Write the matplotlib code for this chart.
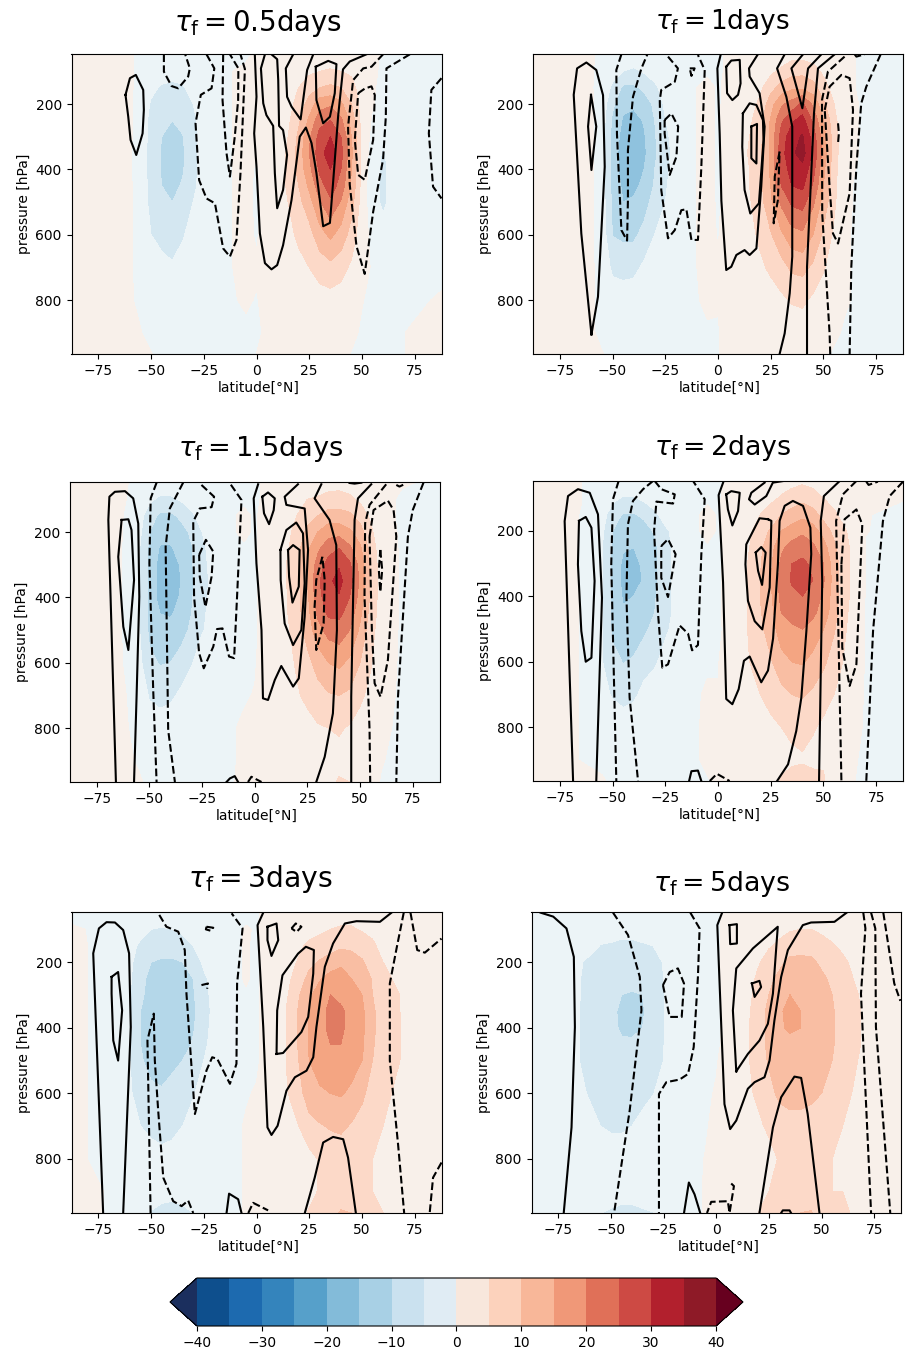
import numpy as np
import matplotlib
matplotlib.use("Agg")
import matplotlib.pyplot as plt
from matplotlib.colors import ListedColormap, BoundaryNorm
from matplotlib.cm import ScalarMappable

LAT = [-87.7,-65,-55,-50,-45,-40,-35,-30,-25,-15,-5,0,5,15,20,25,30,35,40,45,50,55,60,70,87.7]
PRES = [47,100,150,200,250,300,350,400,450,500,600,700,800,900,965]
LEVELS = list(range(-40, 45, 5))
TICKS = list(range(-40, 50, 10))
LON_TICKS = [-75,-50,-25,0,25,50,75]
PRES_TICKS = [200,400,600,800]
LABELS = ["0.5","1","1.5","2","3","5"]

# band colours (-inf..-40, -40..-35, ..., 35..40, 40..inf)
PANEL_COLORS = ["#053061","#1a5a9a","#2a72b4","#3f8bc1","#5fa6ce","#8fc2de","#b4d7e9","#d4e7f1","#ecf4f7",
                "#f8f0ea","#fcd9c8","#f9bea3","#f4a582","#e07b62","#cc4c44","#b3222f","#93192a","#67001f"]
BAR_COLORS = ["#0e4f8d","#1d6aaf","#3484bc","#56a0ca","#83bbd9","#a8d0e5","#cae1ef","#e0ecf4",
              "#f8e7dc","#fcd2bc","#f8b799","#f09878","#e07058","#cd4a44","#b2202d","#8e1a27"]

def L(p):
    return p + p[:1]

one = [1]*15
neg = [-.5]*15

shade_05 = [one,
 [1,1,1.5,3,4.5,4.5,4.8,4.8,4.5,4.5,4,2.5,1,1,1],
 [-.5,-.5,-.8,-2,-3,-3,-3.3,-3.3,-3,-3,-2.5,-1.5,-.5,.1,.5],
 [-1,-2,-4,-5.5,-6,-6,-6.5,-6.5,-6,-6,-5,-3,-1.5,-.7,.1],
 [-1.5,-3,-5.5,-7,-9,-10,-10.5,-10.5,-10,-9,-6.5,-3.5,-2,-1,-.8],
 [-1.5,-3.5,-6,-8,-10,-12,-13,-12.5,-11.5,-10,-7,-4.5,-2,-1,-.8],
 [-1.5,-3,-5.5,-7,-9,-10.2,-10.8,-10.5,-9.5,-8,-5.5,-3,-1.5,-1,-.8],
 [-1,-2,-3.5,-5,-6,-6.5,-6.5,-6.3,-6,-5,-3,-2,-1,-.7,-.6],
 [-1,-1.5,-2,-2.5,-3,-3,-3,-3,-3,-2.5,-1.5,-1,-.8,-.6,-.5],
 [-.3]*15,
 [-.5,.5,.5,.5,.5,.5,.5,.5,.5,.5,.5,.5,.2,-.3,-.3],
 [.5,.5,.5,.5,.3,.2,.1,-.2,-.3,-.3,-.2,.2,-.1,-.3,0],
 [1,1,1,1,1,1,1,1,1,1,1,1,.5,.3,.5],
 [1,1.5,2,3,4,5,5.5,5.5,5.5,5,3.5,2,1,1,1],
 [2,3,5,7,9,11,12,11.5,10,8.5,6,3.5,2,1,1],
 [2,4,8,12,16,19,20,18.5,16,13,8,5,2.5,1,1],
 [2,5,10,18,23,27,28,26,23,19.5,13,7,3,1,1],
 [2,5.5,11,19,25,30,33,30,27.5,24,16,8.5,3,1,1],
 [2,5,10,16,21,25,27,25,23,19.5,13,7,2.5,1,.5],
 [2,4,7,10,13,15,16,15,14,12,8,4,1.5,.5,-.1],
 [1.5,2,2,2.5,3,3.5,3.5,3,3,2.5,1.5,1,.1,-.3,-.4],
 [1,.5,.2,.2,-.5,-1.5,-2.5,-3,-3.5,-3,-1,-.3,-.5,-.5,-.5],
 [-.5,-.5,-.5,-1,-2.5,-4.3,-5.5,-6,-6,-6,-3,-1,-.5,-.5,-.5],
 [-.5,-.5,-.5,-.5,-.5,-.5,-.5,-.5,-.5,-.5,-.5,-.5,-.5,-.05,-.05],
 [-.5,-.5,-.5,-.5,-.5,-.5,-.5,-.5,-.5,-.5,-.5,-.5,.2,2,2]]

shade_1 = [one,
 [1.5,1.5,2,3,4,4.5,4.5,4.5,4.5,4,3,2.5,1.5,1,1],
 [-.8,-1,-1.5,-2,-2.5,-3,-3,-3,-3,-2.5,-2,-1.5,-.8,-.5,.1],
 [-1,-3,-6,-9,-11,-11.5,-12,-12,-11.5,-11,-10.2,-6,-2.5,-1,-.5],
 [-1.5,-5,-11,-14,-15.5,-17,-18,-17.5,-16,-15,-11,-7,-2,-1,-.5],
 [-1.5,-6,-11,-14,-17,-18,-19,-18,-16,-14.5,-11,-6.5,-2,-1,-.5],
 [-1.5,-4.5,-9,-12.5,-14.5,-15.5,-16,-15,-14,-12,-8.5,-4,-1.5,-1,-.5],
 [-1,-3,-6,-9,-10,-10.5,-11,-10,-9.5,-8,-5,-1.5,-1,-.7,-.5],
 [-.8,-1.5,-3,-4,-5.2,-6,-6.5,-6,-5.5,-5,-1.5,-1,-.7,-.5,-.5],
 neg,
 [-.5,-.3,.5,.5,.5,.5,.5,.5,.5,.5,.5,.5,.3,-.2,-.3],
 [-.3,-.3,-.2,-.2,-.2,-.2,-.2,-.2,-.2,-.2,-.1,.2,.1,-.1,-.1],
 [.3,.3,.5,.5,.6,.6,.6,.6,.6,.6,.8,1,1,.5,.5],
 [1,1.5,2,3,4,5,5.5,5,5,4.5,3.5,2.5,1,1,1],
 [1,2,4,6,8,8.5,9,9,8.5,8,6,4,2,1,1],
 [1.5,4,8,13,15.5,16,16,16,15,14,9.5,6,2.5,1,1],
 [2,6,12,19,24,27,28,27,25,21,14,8,4,1,1],
 [3,8,14,22,29,33,34,32,30,26,18,11,5.5,1.5,1],
 [3,8.5,14,26,32,35.5,37,33.5,31,27,19,11.5,6,2,1],
 [2.5,7,12,19,24,28,29,27,24.5,21,15,9,4,1,.7],
 [2,4,7,11,15,17,18,16,15,13,9,5.5,2.5,.7,.3],
 [1,1.5,3,5,6.5,7.5,7.5,7,6.5,6,4,2,.8,.3,-.2],
 [.5,.5,.5,1,1,1,1,.5,.3,.3,.2,.2,.2,-.2,-.4],
 neg, neg]

shade_15 = [one, one,
 [-1,-1.5,-3,-3.5,-4.5,-4.5,-4.5,-4.5,-4.5,-4.5,-3.5,-1.5,-1,-.3,.3],
 [-1,-4,-7.5,-10,-11,-11,-11.5,-11.5,-11,-11,-9,-5.5,-2.5,-1,-.5],
 [-1.5,-6,-11,-13,-15.5,-17,-17,-17,-15,-13,-10.3,-7,-2,-1,-.5],
 [-1.5,-6,-11,-13.5,-15.5,-17.5,-18,-17,-15.5,-13.5,-10,-6,-2,-1,-.5],
 [-1.5,-4.5,-9,-12,-13.5,-14.5,-15,-14.5,-13.5,-12,-8,-4,-1.5,-1,-.5],
 [-1,-2.5,-6,-9,-10.5,-10.5,-11,-10.5,-10,-9,-5.5,-1.5,-1,-.7,-.5],
 [-.8,-1.5,-3,-5,-6,-6.5,-7,-6.5,-6,-5.5,-1.5,-1,-.7,-.5,-.5],
 neg,
 [-.5,-.3,.3,.3,-.2,-.3,-.3,-.3,-.3,-.3,-.3,-.2,.3,.3,.4],
 [-.3,-.3,-.2,-.2,-.2,-.2,-.2,-.2,-.2,-.2,-.2,.1,.1,.1,.3],
 [.3,.3,.5,.5,.5,.5,.5,.5,.5,.5,1,1,1,1,1],
 [1,1.5,2,3,4,5,5,4.5,4.5,4,3.5,2.5,1.5,1,1],
 [1.5,2.5,5,7,8,8.5,8,8,8,7,5.5,4.5,2.5,1,1],
 [2,5,8,11,14,15,15,14,13,12,8.5,6,3.5,1.5,1],
 [2.5,5.5,10,15,19,22,24,23,21,18,12,8,4.5,2,2],
 [3,6.5,12,18,23,27,29,28,26,22,15,9.5,5,3,3.5],
 [3,7,12,18,25,29.5,31.5,29.5,26,23,16,10,5.5,3.5,5.5],
 [2.5,6,11,16,21,26,27,25,23,20,14,9,4.5,3,5],
 [2,4,8,12,16,18,19,18,16,14,10,6,3,1.5,1.5],
 [1.5,2,4,6,8,9,9,9,8,7,5.5,3.5,1.5,.7,.5],
 [1,1,1,1.5,2,2.5,2.5,2.5,2.5,2,1.5,1,.5,.1,-.1],
 [.3,-.5,-.5,-.5,-.5,-.5,-.5,-.5,-.5,-.5,-.5,-.5,-.5,-.5,-.5],
 neg]

shade_2 = [one,
 [.05,.05,-.05,-.05,-.05,-.05,-.05,-.05,-.05,-.05,-.05,-.05,-.05,-.05,.5],
 [-1,-1.5,-3,-4,-4.8,-4.8,-4.8,-4.8,-4.8,-4.8,-4.8,-3.5,-1.5,-.7,.3],
 [-1.5,-4,-7.5,-10,-11,-11,-11,-11,-11,-11,-8.5,-5.5,-2,-1,-.5],
 [-1.5,-5.5,-10.5,-13,-14.5,-16,-16.5,-15.5,-14.5,-13,-10.2,-7,-2,-1,-.5],
 [-1.5,-5.5,-10.5,-13,-15,-16.5,-17,-15,-14,-12.5,-9.5,-6,-2,-1,-.5],
 [-1.5,-4,-9,-12,-13.5,-14,-14.5,-14,-13,-11,-7,-3.5,-1.5,-1,-.5],
 [-1,-2.5,-6,-9.5,-11,-11,-11,-10.5,-10,-8.5,-5.8,-2,-1,-.7,-.5],
 [-.8,-1.5,-3,-6,-7,-7,-7,-7,-7,-6,-3,-1,-.7,-.5,-.5],
 neg,
 [-.5,-.2,.3,.3,-.1,-.2,-.2,-.2,-.2,-.2,-.2,.2,.3,.3,-.1],
 [-.3,-.2,-.1,-.1,-.2,-.2,-.2,-.2,-.2,-.2,-.1,.1,.1,.2,.2],
 [.3,.5,.5,.5,.5,.5,.5,.5,.5,.3,1,1,1,1,1],
 [1,1.5,2.5,4,5,5.5,5.5,5.5,5.5,5.5,5,3.5,2,1,1],
 [1.5,2.5,5,8,9,9.5,10,10,9.5,9,8,5,3,1.5,1],
 [2,4,7,10.5,13,14,14.5,14,13,12,9.5,6.5,4,2,3],
 [3,5.5,10,15,19,21,22,21.5,20,18,13,8.5,5,3.5,5.5],
 [3.5,7,12,17,22,25,25.5,24,22,19,15,10,6,4,7],
 [4,8.5,13.5,19,23,26,27.5,25,22,20,15.5,10.5,6.5,4.5,7],
 [3.5,7,12,17,21,24,25,23,21,18,13.5,9,5.5,3.5,7],
 [3,5,8,13,17,20,20.5,19,18,15,11,7,4,4.5,5.5],
 [2,3,6,8.5,11,12.5,13,12.5,12,10.5,7.5,5,2.5,1.5,2],
 [1,1.5,3,5.5,6.5,6.5,6.5,6.5,6,5.5,4.5,2.5,1.5,.5,.3],
 [.3,.2,.1,.05,-.1,-.1,-.2,-.2,-.3,-.3,-.3,-.3,-.3,-.3,-.3],
 [.3,.1,-.5,-.5,-.5,-.5,-.5,-.5,-.5,-.5,-.5,-.5,-.5,-.5,-.5]]

shade_3 = [
 [-.5,.2,.25,.25,.25,.25,.25,.25,.25,.25,.25,.25,.25,1,1],
 neg,
 [-1,-3,-6,-7.5,-8.5,-9,-10,-10,-10,-9.5,-8,-5,-2,-1,-.8],
 [-1.5,-5,-8,-10,-11.5,-12,-12.5,-12.5,-12,-11.5,-9,-6.5,-2.5,-1.5,-5.5],
 [-1.5,-5.5,-8.5,-10.5,-12,-13,-13.5,-13.5,-13,-12,-9.5,-7,-3.5,-2.5,-7],
 [-1.5,-5,-8.5,-10.5,-12,-13,-14,-13.5,-13,-11,-8.5,-6.5,-3,-3,-7.5],
 [-1,-4,-7,-10,-11.5,-12.5,-13,-13,-12,-10,-7.5,-5,-1.5,-1.5,-7],
 [-1,-2,-5,-8,-10,-10.5,-11,-10.5,-9.5,-7.5,-5.5,-2.5,-1,-1,-5],
 [-.5,-1,-2,-4,-6,-6.5,-7,-6.5,-6,-5,-2.5,-1,-.7,-.5,-.5],
 neg,
 [-.3,.1,.1,.1,.1,-.1,-.2,-.2,-.2,-.2,-.1,.1,.1,.1,.1],
 [-.2,-.1,-.2,-.2,-.2,-.2,-.2,-.2,-.2,-.2,.1,.3,.3,.3,.5],
 [.5,.5,.5,.5,.5,.5,.5,.5,.5,.5,.5,.5,.5,.5,1],
 [1,1,1.5,3,4,5,5.5,5.5,5.5,5.5,5,3,1.5,1,1],
 [1,2,4,5.5,7.5,9.5,10.5,10.5,10.5,10,8,5,2.5,2,3],
 [1.5,3,6,8.5,11.5,14,15.2,15.5,15.5,15,13,8,3.5,3.5,5.5],
 [2,4,7,10.5,14.5,17.5,18.5,18.5,17.5,16.5,14.5,9.5,5.5,5.5,7],
 [2.5,5,8,12,17,20,21,21,20,18,15,10.5,6.5,6.5,8],
 [3,5.5,9,14,17,18.5,21,21,20,18,15.5,11,7,7,10.5],
 [3,5.5,9,12,15,17,18,18,18,17,14,9.5,6.5,6.5,10],
 [2.5,4.5,8,10.5,13,15,16,16,16,15,11,8,5.5,5.5,6.5],
 [2,3.5,6,8,9.5,10,11,11,10.5,10,8,6,5,5,5.5],
 [1.5,1.5,3,5,6,7,7,7.5,7.5,7,6,5,5,5,5],
 [1,1,1.5,2,3.5,4.5,4.5,4.5,4.5,4.5,3.5,3,2,1,1],
 one]

shade_5 = [neg,
 [-1,-1,-1.5,-4.8,-4.9,-4.9,-5,-5,-5,-5,-4.5,-3,-1,-1,-.5],
 [-1.5,-3,-5.2,-6,-6.5,-7,-7.5,-7.5,-7.5,-7,-6,-5,-1.5,-1.5,-4.8],
 [-1.5,-3,-5.5,-7,-8,-8.5,-9,-9,-9,-8.5,-7,-5.8,-2,-1.5,-6],
 [-1.5,-3.5,-6,-7.5,-8.5,-10,-10.8,-10.5,-9.5,-8.5,-7,-5.8,-2.5,-2,-7],
 [-1.5,-3.5,-6,-7.5,-8.5,-10.5,-11.5,-10.8,-9.5,-8.5,-6.5,-5,-2,-2,-7],
 [-1,-3,-5.5,-7,-8,-10,-10.5,-10,-9,-8,-6,-4,-1.5,-1.5,-6],
 [-1,-2.5,-5,-6.5,-7,-7.5,-8,-7.5,-7,-6.5,-5.2,-2,-1,-1,-5.2],
 [-.5,-1,-2,-4.8,-5,-5.2,-5.3,-5.3,-5.1,-5,-3,-1,-.7,-.7,-1.5],
 neg,
 [-.3,-.3,-.3,-.3,-.3,-.3,-.3,-.3,-.3,-.3,-.2,-.1,.05,.1,.1],
 [-.2,-.2,-.2,-.2,-.2,-.2,-.2,-.2,-.2,-.1,.1,.3,.1,.3,.5],
 [.3,.3,.3,.3,.3,.3,.3,.3,.3,.5,.5,.5,.5,.5,1],
 [.5,1,1.5,2.5,3,3.5,4,4.5,4.5,4.5,4,2,1,1.5,3],
 [1,2,3,4.5,6,7,8,8,8,7.5,6,4,1.5,3,5],
 [1.5,3,4.5,7,9,10,11,11,11,10.5,8.5,6,3,5,7],
 [2,3.5,6,9,11,13,14.5,14.5,14,13,11,7.5,5.5,5.5,7.5],
 [2.5,4.5,8,11,12.5,15,16,15.5,14,13.5,11.5,8.5,6,6,8],
 [2.5,5,8.5,11,12.5,14,15,15,14,13.5,11.5,8.5,6,6,10],
 [2.5,5,8,11,12,13,13.5,13.5,13,12.5,11,8,6,6,10.5],
 [2,4,7,9,11,12,12.5,12.5,12.5,12,10,7,5.5,5.5,7],
 [1.5,3,5.5,7.5,9,10,10.5,10.5,10.5,10,8,5.5,5,5,6],
 [1,2,4,6,7,8,8,8,8,7.5,6.5,5,5,5,5.5],
 [.5,1,1.5,2,3,4,4.5,4.5,4.5,4,3,3,2,3,4],
 [.5]*15]

solid_05 = [
 L([(-62.1,172),(-60,121),(-57.2,111),(-53.7,157),(-53.4,218),(-54,290),(-57,356),(-59.7,310),(-60.8,239)]),
 [(-.8,48),(0,178),(-1.1,290),(0,392),(1.6,596),(4,687),(7.1,706),(9.8,693),(12.6,632),(16.6,494),(20.5,300),(23.4,272),(26.1,320),(28.4,411),(31.6,574),(34.8,564),(36.3,441),(38.7,237),(41,94),(44.2,70),(52.1,48)],
 [(4,48),(2.1,91),(3.2,198),(4.7,234),(7.9,267),(8.7,412),(9.8,519),(12.6,463),(14.5,356),(12.6,280),(10.7,267),(10.3,127),(9.8,63),(7.1,48)],
 [(17.4,48),(13.9,91),(14.5,178),(16.6,208),(20.9,247),(24,96),(26.9,48)],
 L([(28.1,86),(34,68),(37.9,78),(37.1,167),(34.8,239),(31.6,259),(28.4,188)])]
dashed_05 = [
 [(-43.9,48),(-43.9,101),(-40.3,145),(-37.1,152),(-32.4,116),(-31.6,91),(-33.8,48)],
 [(-23.7,48),(-20,91),(-21.3,152),(-26.4,172),(-28.9,259),(-27.2,433),(-23.7,489),(-19.7,504),(-15.8,642),(-12.6,667),(-9.5,616),(-7.6,412),(-5.5,93),(-7.6,48)],
 [(-15.8,48),(-16.1,188),(-14.2,351),(-12.6,422),(-10.3,300),(-8.7,188),(-8.6,91),(-12.6,48)],
 [(72.7,48),(61.6,91),(61.3,240),(60,370),(55.3,530),(51.3,720),(47.4,635),(44.2,447),(43.4,269),(45.8,127),(50.6,91),(54.5,86),(60,48)],
 L([(48.2,167),(51.3,153),(54.5,146),(56.1,173),(55.3,310),(51.3,432),(48.2,417),(46.6,310)]),
 [(87.7,121),(82.9,157),(81.7,290),(83.7,453),(87.7,489)]]

solid_1 = [
 L([(-60,905),(-56.9,790),(-53.7,392),(-54.5,173),(-57.7,96),(-62.4,73),(-66.8,91),(-68.4,172),(-64.8,596)]),
 L([(-60.2,172),(-57.7,269),(-60,402),(-61.6,269)]),
 [(1.3,48),(-.3,91),(.8,292),(1.6,496),(3.9,708),(6.3,698),(8.7,662),(12.6,647),(15,662),(18.2,642),(20.5,453),(22.1,269),(19.7,167),(15,116),(14.7,91),(18.9,48)],
 L([(3.9,86),(6.3,67),(10.3,65),(10.7,137),(9.5,172),(6.8,188),(4.3,167)]),
 L([(11.8,229),(15,198),(18.2,203),(21.3,249),(21.6,310),(19.4,504),(15.3,535),(12.6,463),(11.5,331)]),
 L([(15.8,269),(18.5,261),(18.2,382),(15.8,366)]),
 [(31.6,48),(28,91),(32.4,178),(35.2,269),(35.2,667),(34,779),(31.6,902),(29.2,965)],
 [(40.3,48),(34.8,91),(40,213),(42.7,91),(49,48)],
 [(55.3,48),(47.4,91),(45.5,229),(42.2,698),(42.2,965)]]
dashed_1 = [
 [(-45.8,48),(-48.2,96),(-47.9,292),(-45.8,586),(-43.1,618),(-42.7,494),(-42.7,341),(-40.3,178),(-36.3,91),(-33.5,48)],
 [(-23.7,55),(-19,91),(-20.5,132),(-26.9,157),(-27.6,188),(-26.9,463),(-23.7,611),(-20.5,586),(-17.4,525),(-15,522),(-12.6,616),(-9.5,616),(-7.9,392),(-6.3,96),(-9.5,50)],
 L([(-25.3,249),(-22.1,229),(-18.9,269),(-19.7,361),(-22.9,417),(-25.3,290)]),
 L([(-13.4,91),(-11.1,91),(-12.6,114)]),
 L([(29.2,346),(26.9,422),(26.4,565),(28.4,494)]),
 [(56.9,259),(57.3,290),(56.9,320)],
 [(60,55),(52.1,101),(49.3,188),(49.4,535),(52.9,902),(53.2,965)],
 L([(50.6,218),(52.9,147),(58.5,111),(62.4,121),(64,218),(62.4,473),(56.9,627),(54.5,596),(52.9,453)]),
 [(77.1,48),(70.3,147),(67.9,198),(65.6,392),(63.2,698),(62.4,965)],
 [(64.8,48),(65.6,55),(69.5,48)]]

solid_15 = [
 [(-65.9,965),(-69.5,163),(-69,92),(-66.4,77),(-61.6,75),(-57.7,97),(-55.3,174),(-54.8,398),(-56.1,704),(-57.3,965)],
 L([(-63.2,163),(-60,161),(-58.5,194),(-57.3,347),(-60,561),(-62.4,490),(-64.8,276)]),
 [(1.6,54),(-.5,97),(.8,296),(3.2,500),(3.9,709),(6.3,714),(9.5,653),(12.6,610),(18.2,673),(20.9,648),(23.7,459),(25.3,255),(23.7,128),(15,117),(14.2,92),(20.5,54)],
 L([(3.6,92),(6.3,79),(9.5,97),(9,133),(6.8,176),(4.4,143)]),
 L([(12.2,255),(15,194),(19.7,171),(22.9,204),(23.7,357),(22.1,500),(18.2,546),(14.2,480),(12.3,347)]),
 L([(15.8,255),(18.2,240),(21.3,255),(20.9,367),(17.9,416),(16.3,337)]),
 [(31.6,54),(28.4,97),(35.5,163),(38.7,240),(39,500),(37.1,755),(33.2,888),(29.2,965)],
 [(55.3,54),(49,97),(47.4,163),(45.8,704),(45.8,965)],
 [(45,50),(47.4,52),(50.6,49)],
 [(-13.4,965),(-11.8,954),(-9.5,947),(-7.9,965)]]
dashed_15 = [
 [(-46.6,49),(-49.4,97),(-50,296),(-48.2,684),(-46.6,965)],
 [(-34,49),(-40.3,128),(-42.3,245),(-41.1,806),(-37.9,965)],
 [(-25.3,56),(-19.3,92),(-20.5,124),(-26.1,128),(-29.2,168),(-28.8,398),(-26.4,571),(-24.2,617),(-19.7,551),(-17.9,497),(-15.3,495),(-12.2,581),(-9.8,586),(-8.4,398),(-6.3,102),(-11.8,51)],
 L([(-26.4,270),(-23.2,224),(-19.7,260),(-20.5,337),(-23.4,429),(-26.1,337)]),
 L([(32.1,276),(29.2,347),(28.4,429),(29.2,561),(32.7,480),(33.2,347)]),
 L([(59.6,255),(60.5,316),(59.6,383),(58.9,316)]),
 [(62.4,54),(54.5,117),(52.4,173),(52.1,398),(54.5,806),(54.8,965)],
 L([(54.5,214),(56.4,133),(63.2,104),(65.9,133),(67.2,214),(63.2,592),(59.7,704),(56.9,663),(55.6,500)]),
 [(80.1,49),(75,133),(72.7,214),(68,704),(67.2,965)],
 [(67.2,56),(68.7,61),(71.9,51)],
 [(-3.2,965),(-1.6,949),(3.2,965)]]

solid_2 = [
 [(-68.7,965),(-72.7,170),(-71.1,93),(-66.4,72),(-60.8,83),(-56.9,149),(-55,404),(-57.7,965)],
 L([(-65.9,169),(-62.7,157),(-60,190),(-58.5,353),(-60,588),(-62.7,600),(-64.8,506),(-66.4,302)]),
 [(2.7,47),(.3,90),(2.4,357),(3.9,714),(6.8,730),(9.8,684),(12.3,597),(15,584),(20.5,663),(23.7,627),(26.1,529),(28.4,302),(29.2,169),(31.6,123),(35.5,108),(40.3,123),(43.8,190),(44.2,271),(41.9,506),(39.5,710),(37.1,812),(33.2,914),(28,965)],
 L([(23.7,164),(19.7,161),(13.4,241),(13,302),(14.2,414),(17.4,476),(21,501),(24.5,373),(25.3,169)]),
 L([(3.9,88),(6.3,78),(10.3,83),(9.5,139),(6.8,183),(4.7,134)]),
 L([(17.9,266),(20.5,249),(22.6,266),(20.9,365),(19,322)]),
 [(31,47),(26,52),(22.9,93),(17.4,119),(14.7,103),(15.8,83),(22.1,52)],
 [(57.7,47),(50.2,93),(48.7,169),(49.4,353),(47.9,965)],
 [(-13.7,965),(-12.6,935),(-9.5,933),(-7.9,965)]]
dashed_2 = [
 [(-47.1,47),(-49.8,103),(-50.6,302),(-48.2,965)],
 [(-30.8,47),(-35.5,72),(-40.3,108),(-42.7,180),(-43.4,404),(-41.9,710),(-37.9,965)],
 [(-30,47),(-26.9,72),(-20.5,88),(-21.3,116),(-29.2,110),(-30.3,200),(-28.4,455),(-26.4,618),(-23.7,608),(-18.2,489),(-14.2,514),(-12.3,565),(-9.5,549),(-7.9,271),(-6.3,103),(-11.8,47)],
 L([(-26.9,246),(-23.7,225),(-20.1,271),(-23.7,402),(-26.9,343)]),
 [(65.6,47),(59.2,88),(56,169),(57.7,710),(58.5,965)],
 L([(58.5,302),(60,164),(65.6,134),(68.4,180),(65.6,608),(62.4,674),(58.9,557)]),
 [(87.7,49),(81.4,93),(78.2,169),(73.5,506),(70.3,965)],
 [(70.3,49),(71.4,59),(75.8,49)],
 [(-3.9,965),(-.5,943),(5.5,965)]]

solid_3 = [
 [(-72.7,965),(-77.4,173),(-74.7,97),(-71.1,78),(-67.1,79),(-63.2,102),(-60.4,173),(-59.6,398),(-63.2,965)],
 L([(-68.7,245),(-65.6,230),(-63.7,347),(-65.6,500),(-67.9,439),(-68.7,296)]),
 [(3.2,49),(.5,87),(3.2,398),(5.2,704),(7.1,727),(10,699),(14.2,592),(18.2,551),(23.7,531),(26.9,490),(28.4,398),(32.4,214),(36.3,143),(41.9,82),(47.4,75),(58.5,77),(64,49)],
 L([(5.2,92),(9.5,82),(10.3,133),(7.1,181),(5.2,133)]),
 L([(9.5,480),(12.6,477),(21.3,413),(24.5,367),(26.9,235),(27.2,163),(23.4,153),(19.7,174),(12.3,240),(9.8,347)]),
 [(22.9,965),(27.6,857),(31.6,750),(36.3,733),(41.1,740),(43.4,796),(47.1,965)],
 [(-14.2,965),(-13,906),(-8.7,923),(-7.1,965)]]
dashed_3 = [
 [(-46.1,56),(-42.7,92),(-37.1,107),(-34,163),(-33.2,296),(-30.8,520),(-29.2,663),(-23.7,530),(-21,490),(-18.6,495),(-12.6,571),(-9.5,510),(-9.2,265),(-6.6,97),(-11.8,51)],
 [(-50.2,965),(-51.7,439),(-48.7,357),(-48.2,500),(-46.6,653),(-44.2,857),(-39.5,929),(-35.5,944),(-32.4,927),(-30,965)],
 L([(-23.7,92),(-20.5,95),(-21.8,104),(-24,100)]),
 [(-26.1,270),(-23,265),(-23.4,281)],
 L([(16.6,97),(18.6,82),(21.3,92),(19,108)]),
 [(69.8,49),(66.4,158),(63.2,265),(63.2,500),(67.1,755),(70,965)],
 [(73,49),(76.2,163),(79.8,171),(87.7,128)],
 [(87.7,811),(83.7,857),(82.1,965)],
 [(-3.9,965),(-1.6,934),(5.5,957)]]

solid_5 = [
 [(-83.4,49),(-77.4,61),(-71.1,97),(-67.6,184),(-67.1,398),(-68.7,704),(-72.4,965)],
 [(2.8,49),(.5,87),(2.4,398),(3.9,633),(6.6,709),(9.5,683),(15,586),(18.2,566),(22.9,551),(25.3,500),(27.6,378),(30.8,245),(34,163),(41.1,87),(45,79),(56.1,77),(61.9,49)],
 L([(6.3,87),(9.8,84),(9.8,143),(6.6,145)]),
 L([(9.5,533),(15,480),(20.5,439),(24.5,388),(26.9,296),(29.2,92),(17.4,158),(9.5,219),(7.9,347)]),
 L([(16.9,265),(20.5,257),(21.3,276),(18.2,306)]),
 [(20.5,965),(26.9,704),(30.8,612),(37.1,549),(40.3,553),(43.4,663),(49,965)],
 [(-15.3,965),(-13,872),(-10.3,908),(-7.6,965)],
 [(30.8,965),(31.6,957),(34.8,957),(35.5,965)]]
dashed_5 = [
 [(-49,49),(-41.9,117),(-36.3,245),(-35.5,347),(-41.1,653),(-48.5,965)],
 [(-12.3,49),(-7.9,97),(-8.7,245),(-10.7,459),(-13.4,541),(-17.4,558),(-23.7,566),(-27.2,602),(-27.2,965)],
 L([(-25.3,270),(-22.1,230),(-18.2,219),(-15.3,265),(-16.4,367),(-22.1,367)]),
 [(7.1,875),(8.4,883),(6.3,965),(5.5,929),(-2.4,931),(-4.4,965)],
 [(69.8,49),(70.8,97),(68.7,296),(73.5,965)],
 [(73.5,49),(75.5,97),(75.8,398),(82.6,965)],
 [(79.3,49),(84.5,265),(87.4,318)]]

SHADES = [shade_05, shade_1, shade_15, shade_2, shade_3, shade_5]
SOLIDS = [solid_05, solid_1, solid_15, solid_2, solid_3, solid_5]
DASHES = [dashed_05, dashed_1, dashed_15, dashed_2, dashed_3, dashed_5]

W, H = 906, 1348
fig = plt.figure(figsize=(W/100, H/100), dpi=100)

# panel frames in pixels: left, right, top, bottom; title pad (pt), title size (pt), title centre (px)
BOXES = [(71.5,441.5,54,354,16.5,19.9,258.5), (533,903,54,354,18,18.9,722),
         (70,439.5,482,782,18.5,19.6,261), (533,903,481,781,18.5,19.3,722.5),
         (71.5,441.5,912,1213,17.7,20.3,260), (531.5,901,912,1213,15,19.3,722)]

for i, (l, r, t, b, pad, fs, cx) in enumerate(BOXES):
    ax = fig.add_axes([l/W, 1-b/H, (r-l)/W, (b-t)/H])
    z = np.array(SHADES[i]).T
    ax.contourf(LAT, PRES, z, levels=LEVELS, colors=PANEL_COLORS, extend="both")
    for path in SOLIDS[i]:
        a = np.array(path)
        ax.plot(a[:,0], a[:,1], color="k", lw=1.5, ls="-")
    for path in DASHES[i]:
        a = np.array(path)
        ax.plot(a[:,0], a[:,1], color="k", lw=1.5, ls="--")
    ax.set_xlim(-87.7, 87.7)
    ax.set_ylim(965, 47)
    ax.set_xticks(LON_TICKS)
    ax.set_yticks(PRES_TICKS)
    ax.set_xlabel("latitude[°N]", labelpad=2.5, x=0.5+2/(r-l))
    ax.set_ylabel("pressure [hPa]", labelpad=3.5)
    ax.set_title(r"$\tau_{\mathrm{f}}=$" + LABELS[i] + "days", fontsize=fs, pad=pad, x=(cx-l)/(r-l))

cax = fig.add_axes([170/W, 1-1326/H, 573/W, 48/H])
cb_cmap = ListedColormap(BAR_COLORS).with_extremes(under="#1b2f5e", over="#67001f")
sm = ScalarMappable(norm=BoundaryNorm(LEVELS, len(BAR_COLORS)), cmap=cb_cmap)
cb = fig.colorbar(sm, cax=cax, orientation="horizontal", extend="both", extendfrac=27/520, ticks=TICKS, spacing="proportional", drawedges=False)
cb.minorticks_off()

fig.savefig("out.png", dpi=100)
